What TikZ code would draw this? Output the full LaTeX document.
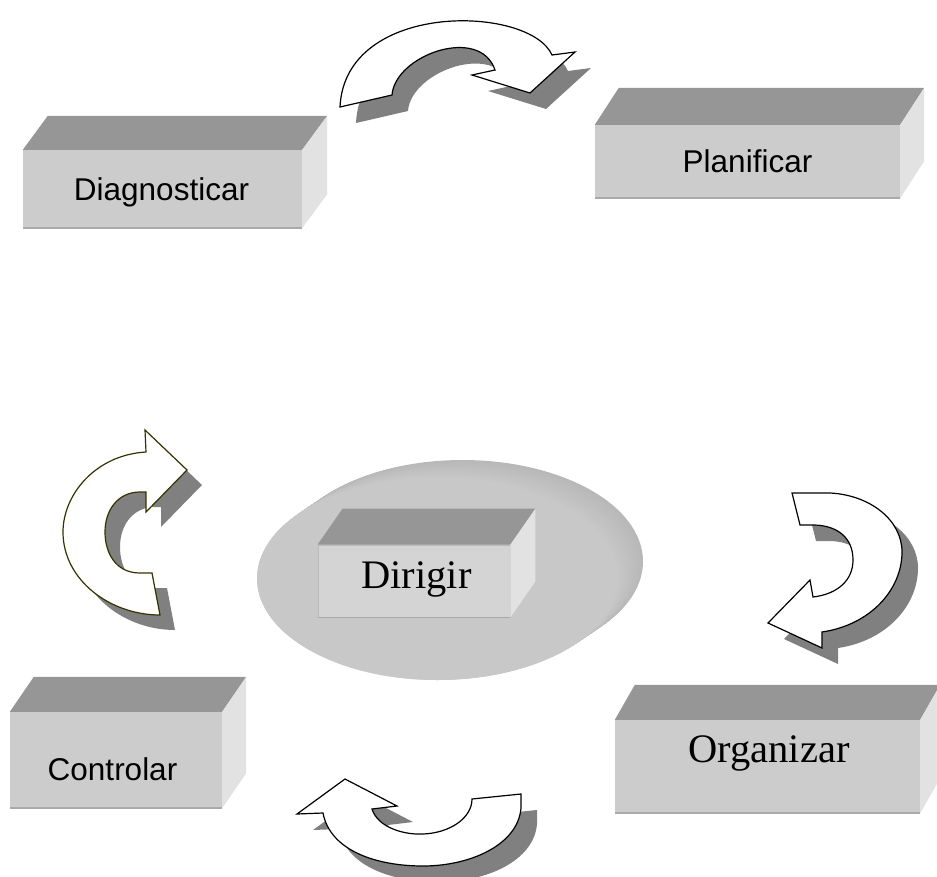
\documentclass[tikz,border=0pt]{standalone}
\usepackage{fontspec}
\setmainfont{Liberation Serif}
\setsansfont{Liberation Sans}

\definecolor{frontgray}{RGB}{204,204,204}
\definecolor{diskgray}{RGB}{200,200,200}
\definecolor{topgray}{RGB}{150,150,150}
\definecolor{sidegray}{RGB}{226,226,226}
\definecolor{edgegray}{RGB}{170,170,170}
\definecolor{shadowgray}{RGB}{128,128,128}
\definecolor{darkolive}{RGB}{51,51,0}

% top and right faces of a box, #1 = front face node, (#2,#3) = depth
\newcommand{\boxfaces}[3]{%
  \fill[topgray] (#1.north west) -- ([shift={(#2,#3)}]#1.north west) -- ([shift={(#2,#3)}]#1.north east) -- (#1.north east) -- cycle;
  \fill[sidegray] (#1.north east) -- ([shift={(#2,#3)}]#1.north east) -- ([shift={(#2,#3)}]#1.south east) -- (#1.south east) -- cycle;
  \draw[edgegray, line width=1.5pt] (#1.south west) -- (#1.south east);}

% outlines of the curved arrows
\newcommand{\toparrowpath}{(340,107) -- (392,95) .. controls (395,55) and (480,25) .. (495,70) -- (472,75) -- (530,93) -- (575,52) -- (552,55) .. controls (530,5) and (345,0) .. cycle}
\newcommand{\leftarrowpath}{(146,452) .. controls (95,455) and (63,495) .. (63,532) .. controls (63,580) and (110,615) .. (160,615) -- (152,573) -- (140,573) .. controls (115,573) and (105,552) .. (105,532) .. controls (105,510) and (118,492) .. (140,492) -- (146,492) -- (146,512) -- (187,470) -- (145,430) -- cycle}
\newcommand{\rightarrowpath}{(792,493) -- (830,493) .. controls (870,495) and (902,520) .. (902,552) .. controls (902,590) and (870,625) .. (822,632) -- (822,648) -- (768,623) -- (810,580) -- (813,597) .. controls (838,594) and (853,580) .. (853,560) .. controls (853,538) and (838,526) .. (815,525) -- (800,525) -- cycle}
\newcommand{\bottomarrowpath}{(345,779) -- (397,806) -- (372,809) .. controls (378,828) and (405,835) .. (423,834) .. controls (450,833) and (472,818) .. (472,799) -- (521,794) -- (521,808) .. controls (518,845) and (470,866) .. (423,866) .. controls (375,866) and (330,850) .. (323,813) -- (297,814) -- cycle}

\begin{document}
\begin{tikzpicture}[
    x=1pt, y=-1pt,
    face/.style={rectangle, fill=frontgray, inner sep=0pt},
    sanslabel/.style={font=\sffamily\fontsize{31.5}{38}\selectfont, anchor=base, inner sep=0pt},
    seriflabel/.style={font=\rmfamily\fontsize{40.5}{48}\selectfont, anchor=base, inner sep=0pt},
    arrowshadow/.style={fill=shadowgray, shift={(16,16)}},
    arrowbody/.style={fill=white, draw=black, line width=1.2pt}
]
\clip (0,0) rectangle (937,876);
% Disk
\foreach \i in {0,...,25} {
  \pgfmathsetmacro\shadelevel{28-0.25*\i}
  \fill[black!\shadelevel] (462.5-\i,561.5+0.68*\i) ellipse [x radius=180.5, y radius=101.5];
}
\fill[diskgray] (437.5,578.5) ellipse [x radius=180.5, y radius=101.5];
% Boxes
\node[face, minimum width=279pt, minimum height=78pt] (diag) at (162.5,189) {};
\boxfaces{diag}{25}{-34}
\node[face, minimum width=305pt, minimum height=73pt] (plan) at (747.5,161.5) {};
\boxfaces{plan}{24}{-37}
\node[face, minimum width=212pt, minimum height=96pt] (contr) at (116,760) {};
\boxfaces{contr}{24}{-35}
\node[face, minimum width=305pt, minimum height=93pt] (organ) at (767.5,766.5) {};
\boxfaces{organ}{20}{-35}
\node[face, fill=frontgray!85!white, draw=edgegray!80!white, line width=0.8pt, minimum width=192pt, minimum height=72pt] (dirig) at (414,581) {};
\boxfaces{dirig}{25}{-36}
% Labels
\node[sanslabel] (diagtext) at (161.5,200) {Diagnosticar};
\node[sanslabel] (plantext) at (747.5,172) {Planificar};
\node[sanslabel] (contrtext) at (112.5,780) {Controlar};
\node[seriflabel] (organtext) at (769,762) {Organizar};
\node[seriflabel] (dirigtext) at (416.5,588) {Dirigir};
% Arrows
\fill[arrowshadow] \toparrowpath;
\draw[arrowbody] \toparrowpath;
\fill[arrowshadow, shift={(-1,-1)}] \leftarrowpath;
\draw[arrowbody, draw=darkolive] \leftarrowpath;
\fill[arrowshadow] \rightarrowpath;
\draw[arrowbody] \rightarrowpath;
\fill[arrowshadow] \bottomarrowpath;
\draw[arrowbody] \bottomarrowpath;
\end{tikzpicture}
\end{document}
